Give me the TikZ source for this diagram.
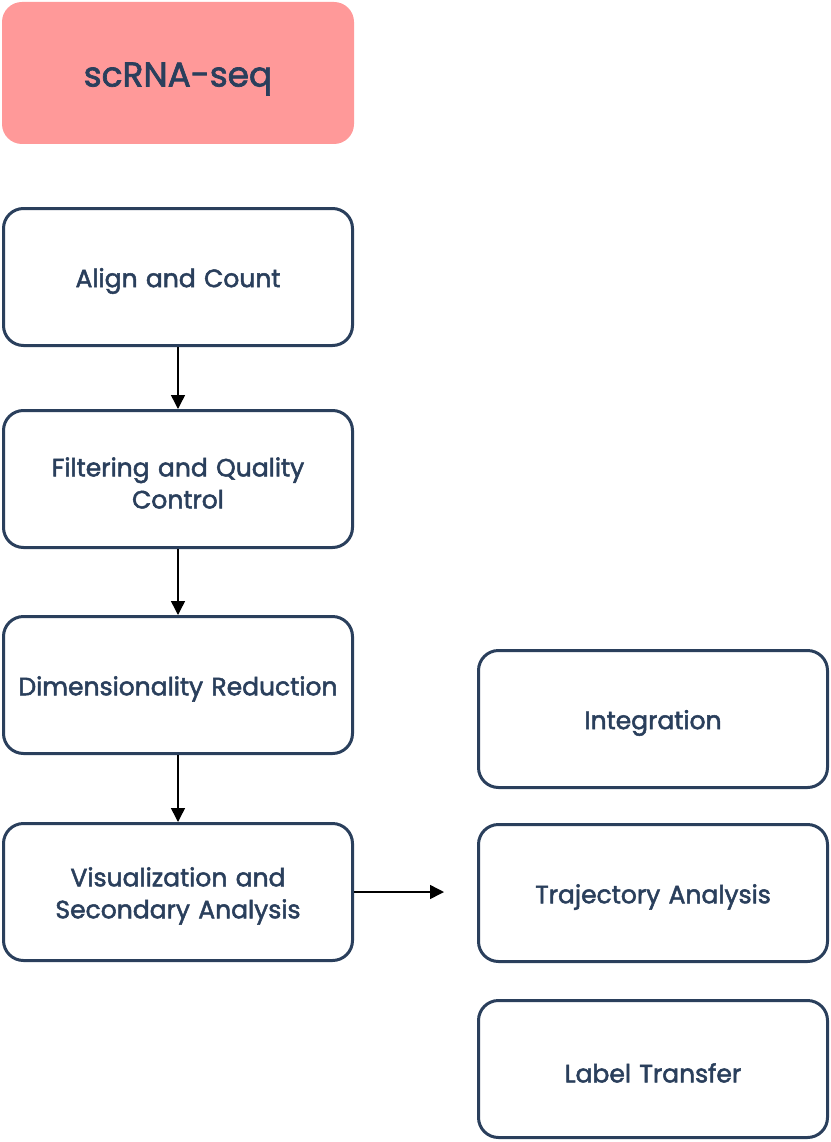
\documentclass[tikz,border=0pt]{standalone}
\usepackage{fontspec}
\setmainfont{Poppins}[FakeBold=2]
\usetikzlibrary{arrows.meta}
\definecolor{navy}{HTML}{2A3F5C}
\definecolor{pink}{HTML}{FF9999}
\begin{document}
\begin{tikzpicture}[x=1pt,y=-1pt,
  stepbox/.style={draw=navy,line width=3pt,rounded corners=20pt,fill=white,
    minimum width=349pt,minimum height=137pt,text=navy,font=\fontsize{25}{32}\selectfont,
    align=center,text width=340pt,inner sep=0pt,
    execute at begin node={\rule{0pt}{27pt}}},
  conn/.style={line width=1.5pt,-{Triangle[width=14pt,length=14pt]}}]
\useasboundingbox (0,0) rectangle (830,1142);
\node[fill=pink,rounded corners=20pt,minimum width=352pt,minimum height=142pt,inner sep=0pt,
  text=navy,font=\fontsize{34.4}{40}\selectfont,
  execute at begin node={\rule{0pt}{36pt}}] (src) at (178,73) {scRNA-seq};
\node[stepbox] (align) at (178,277) {Align and Count};
\node[stepbox] (filt) at (178,479) {Filtering and Quality\\Control};
\node[stepbox] (dim) at (178,685) {Dimensionality Reduction};
\node[stepbox] (vis) at (178,892) {Visualization and\\Secondary Analysis};
\node[stepbox] (int) at (653,719) {Integration};
\node[stepbox] (traj) at (653,893) {Trajectory Analysis};
\node[stepbox] (lab) at (653,1069) {Label Transfer};
\coordinate (vend) at (444,892);
\draw[conn] (align) -- (filt);
\draw[conn] (filt) -- (dim);
\draw[conn] (dim) -- (vis);
\draw[conn] (vis.east) -- (vend);
\end{tikzpicture}
\end{document}
